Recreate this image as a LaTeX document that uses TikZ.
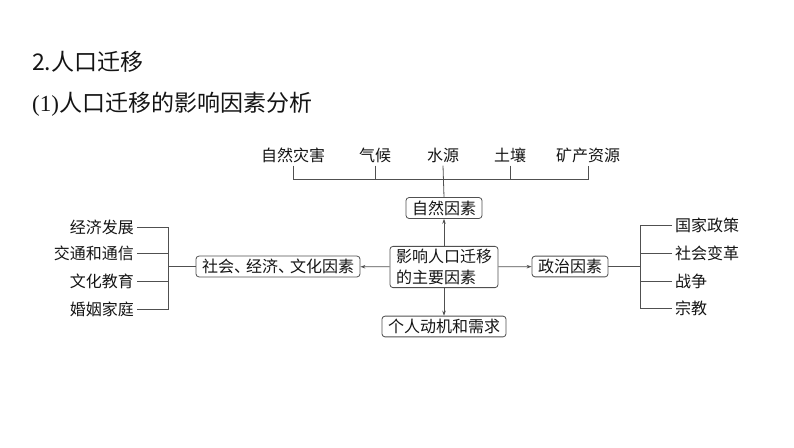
\documentclass[tikz,border=0pt]{standalone}
\usepackage{fontspec}
\setmainfont{Liberation Serif}
\newfontfamily\cjk{Noto Sans CJK SC}
\usetikzlibrary{positioning,arrows.meta}
\definecolor{lineclr}{RGB}{80,80,80}
\definecolor{txtclr}{RGB}{20,20,20}
\newcommand{\dun}{\makebox[0.75em][l]{、}}
\tikzset{ %
  ,>={Stealth[length=5pt,width=3.5pt]}
  ,every node/.style={font=\fontsize{16}{20.5}\selectfont\cjk, text=txtclr}
  ,factor/.style={draw=lineclr, rounded corners=3pt, line width=0.8pt, inner xsep=6pt, inner ysep=3pt}
  ,item/.style={inner sep=3pt}
  ,heading/.style={inner sep=0, anchor=west, font=\fontsize{23}{28}\selectfont\cjk}
  ,link/.style={draw=lineclr, line width=0.8pt}
}
\begin{document}
\begin{tikzpicture}[x=1pt, y=-1pt]
  \useasboundingbox (0,0) rectangle (794,447);
  % headings
  \node[heading] (title) at (32,62) {2.人口迁移};
  \node[heading] (subtitle) at (32,104) {{\rmfamily (1)}人口迁移的影响因素分析};

  % centre and the four factors
  \node[factor, align=left] (core) at (444,267) {影响人口迁移\\的主要因素};
  \node[factor] (nature) at (444,208) {自然因素};
  \node[factor] (personal) at (444,326.5) {个人动机和需求};
  \node[factor] (politics) at (570,266.5) {政治因素};
  \node[factor] (society) at (278,266.5) {社会\dun 经济\dun 文化因素};
  \draw[link, ->] (core) -- (nature);
  \draw[link, ->] (core) -- (personal);
  \draw[link, ->] (core) -- (politics);
  \draw[link, ->] (core) -- (society);

  % natural factors
  \coordinate (nbus) at (443,179);
  \node[item] (disaster) at (293,155) {自然灾害};
  \node[item] (climate) at (375,155) {气候};
  \node[item] (water) at (443,155) {水源};
  \node[item] (soil) at (510,155) {土壤};
  \node[item] (mineral) at (588,155) {矿产资源};
  \draw[link] (disaster.south) -- (disaster.south |- nbus) -- (mineral.south |- nbus) -- (mineral.south);
  \draw[link] (climate.south) -- (climate.south |- nbus);
  \draw[link] (water.south) -- (nature.north);
  \draw[link] (soil.south) -- (soil.south |- nbus);

  % political factors
  \coordinate (pbus) at (640,266.5);
  \node[item, anchor=west] (policy) at (672,225) {国家政策};
  \node[item, anchor=west] (reform) at (672,253) {社会变革};
  \node[item, anchor=west] (war) at (672,281) {战争};
  \node[item, anchor=west] (religion) at (672,308) {宗教};
  \draw[link] (politics) -- (pbus);
  \draw[link] (policy.west) -- (policy.west -| pbus) -- (religion.west -| pbus) -- (religion.west);
  \draw[link] (reform.west) -- (reform.west -| pbus);
  \draw[link] (war.west) -- (war.west -| pbus);

  % social, economic and cultural factors
  \coordinate (sbus) at (168,266.5);
  \node[item, anchor=east] (economy) at (137,227) {经济发展};
  \node[item, anchor=east] (traffic) at (137,253) {交通和通信};
  \node[item, anchor=east] (education) at (137,281) {文化教育};
  \node[item, anchor=east] (family) at (137,309) {婚姻家庭};
  \draw[link] (society) -- (sbus);
  \draw[link] (economy.east) -- (economy.east -| sbus) -- (family.east -| sbus) -- (family.east);
  \draw[link] (traffic.east) -- (traffic.east -| sbus);
  \draw[link] (education.east) -- (education.east -| sbus);
\end{tikzpicture}
\end{document}
